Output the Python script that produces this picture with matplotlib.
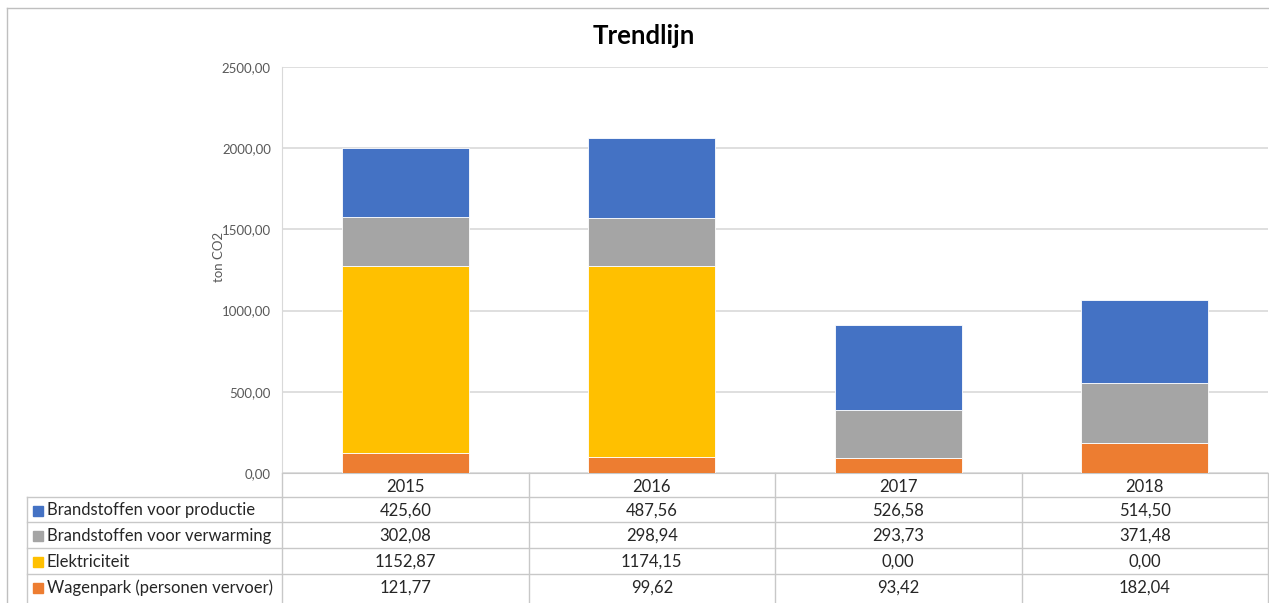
import numpy as np
import matplotlib
matplotlib.use("Agg")
import matplotlib.pyplot as plt
from matplotlib.lines import Line2D
from matplotlib.patches import Rectangle
from matplotlib.transforms import blended_transform_factory

plt.rcParams['font.family'] = ['Lato', 'DejaVu Sans']

years = ['2015', '2016', '2017', '2018']
series_names = ['Brandstoffen voor productie', 'Brandstoffen voor verwarming',
                'Elektriciteit', 'Wagenpark (personen vervoer)']
productie = [425.60, 487.56, 526.58, 514.50]
verwarming = [302.08, 298.94, 293.73, 371.48]
elektriciteit = [1152.87, 1174.15, 0.00, 0.00]
wagenpark = [121.77, 99.62, 93.42, 182.04]
colors = ['#4472C4', '#A5A5A5', '#FFC000', '#ED7D31']

W, H = 1269, 603
fig = plt.figure(figsize=(W / 100, H / 100), dpi=100)

def fy(py):
    return (H - py) / H

def fx(px):
    return px / W

ax = fig.add_axes([fx(282), fy(473), fx(1268) - fx(282), fy(67) - fy(473)])

x = np.arange(len(years))
values = [productie, verwarming, elektriciteit, wagenpark]
bottom = np.zeros(len(years))
# stack from the bottom up: wagenpark, elektriciteit, verwarming, productie
for vals, col in zip(values[::-1], colors[::-1]):
    ax.bar(x, vals, 0.515, bottom=bottom, color=col, edgecolor='white', linewidth=0.6, zorder=3)
    bottom += np.array(vals)

ax.set_xlim(-0.5, 3.5)
ax.set_ylim(0, 2500)
ax.set_yticks(np.arange(0, 2501, 500))
ax.set_yticklabels([f'{v:.2f}'.replace('.', ',') for v in np.arange(0, 2501, 500)])
ax.tick_params(axis='y', length=0, pad=8, labelsize=9.5, labelcolor='#595959')
ax.set_xticks([])
ax.grid(axis='y', color='#D9D9D9', linewidth=1.2, zorder=0)
for s in ['top', 'right']:
    ax.spines[s].set_visible(False)
ax.spines['left'].set_color('#D9D9D9')
ax.spines['bottom'].set_color('#C8C8C8')

fig.text(fx(219), fy(257), 'ton CO2', rotation=90, ha='center', va='center',
         fontsize=9.5, color='#595959')

fig.text(fx(644), fy(36), 'Trendlijn', ha='center', va='center',
         fontsize=18.5, fontweight='bold', color='#000000')

# data table below the axis
line_col = '#C8C8C8'
tr = blended_transform_factory(ax.transData, fig.transFigure)
rows = [473, 497, 522, 548, 574, 600]
for py in rows[1:5]:
    fig.add_artist(Line2D([fx(27), fx(1268)], [fy(py), fy(py)], color=line_col, lw=1))
for xb in [-0.5, 0.5, 1.5, 2.5, 3.5]:
    fig.add_artist(Line2D([xb, xb], [fy(473), fy(603)], color=line_col, lw=1, transform=tr))
fig.add_artist(Line2D([fx(27), fx(27)], [fy(497), fy(603)], color=line_col, lw=1))

fs_tab = 12
for i, yr in enumerate(years):
    fig.text(x[i], fy(487), yr, transform=tr, ha='center', va='center',
             fontsize=fs_tab, color='#262626')

for r, (name, vals, col) in enumerate(zip(series_names, values, colors)):
    ymid = (rows[r + 1] + rows[r + 2]) / 2 + 1
    fig.add_artist(Rectangle((fx(33), fy(ymid + 5)), fx(10), fy(0) - fy(10),
                             color=col, transform=fig.transFigure))
    fig.text(fx(47), fy(ymid), name, ha='left', va='center', fontsize=fs_tab, color='#262626')
    for i, v in enumerate(vals):
        fig.text(x[i], fy(ymid), f'{v:.2f}'.replace('.', ','), transform=tr,
                 ha='center', va='center', fontsize=fs_tab, color='#262626')

# outer chart border
fig.add_artist(Line2D([fx(7), fx(7)], [fy(8), 0], color='#BFBFBF', lw=1))
fig.add_artist(Line2D([fx(7), 1], [fy(8), fy(8)], color='#BFBFBF', lw=1))

fig.savefig('out.png', dpi=100)
